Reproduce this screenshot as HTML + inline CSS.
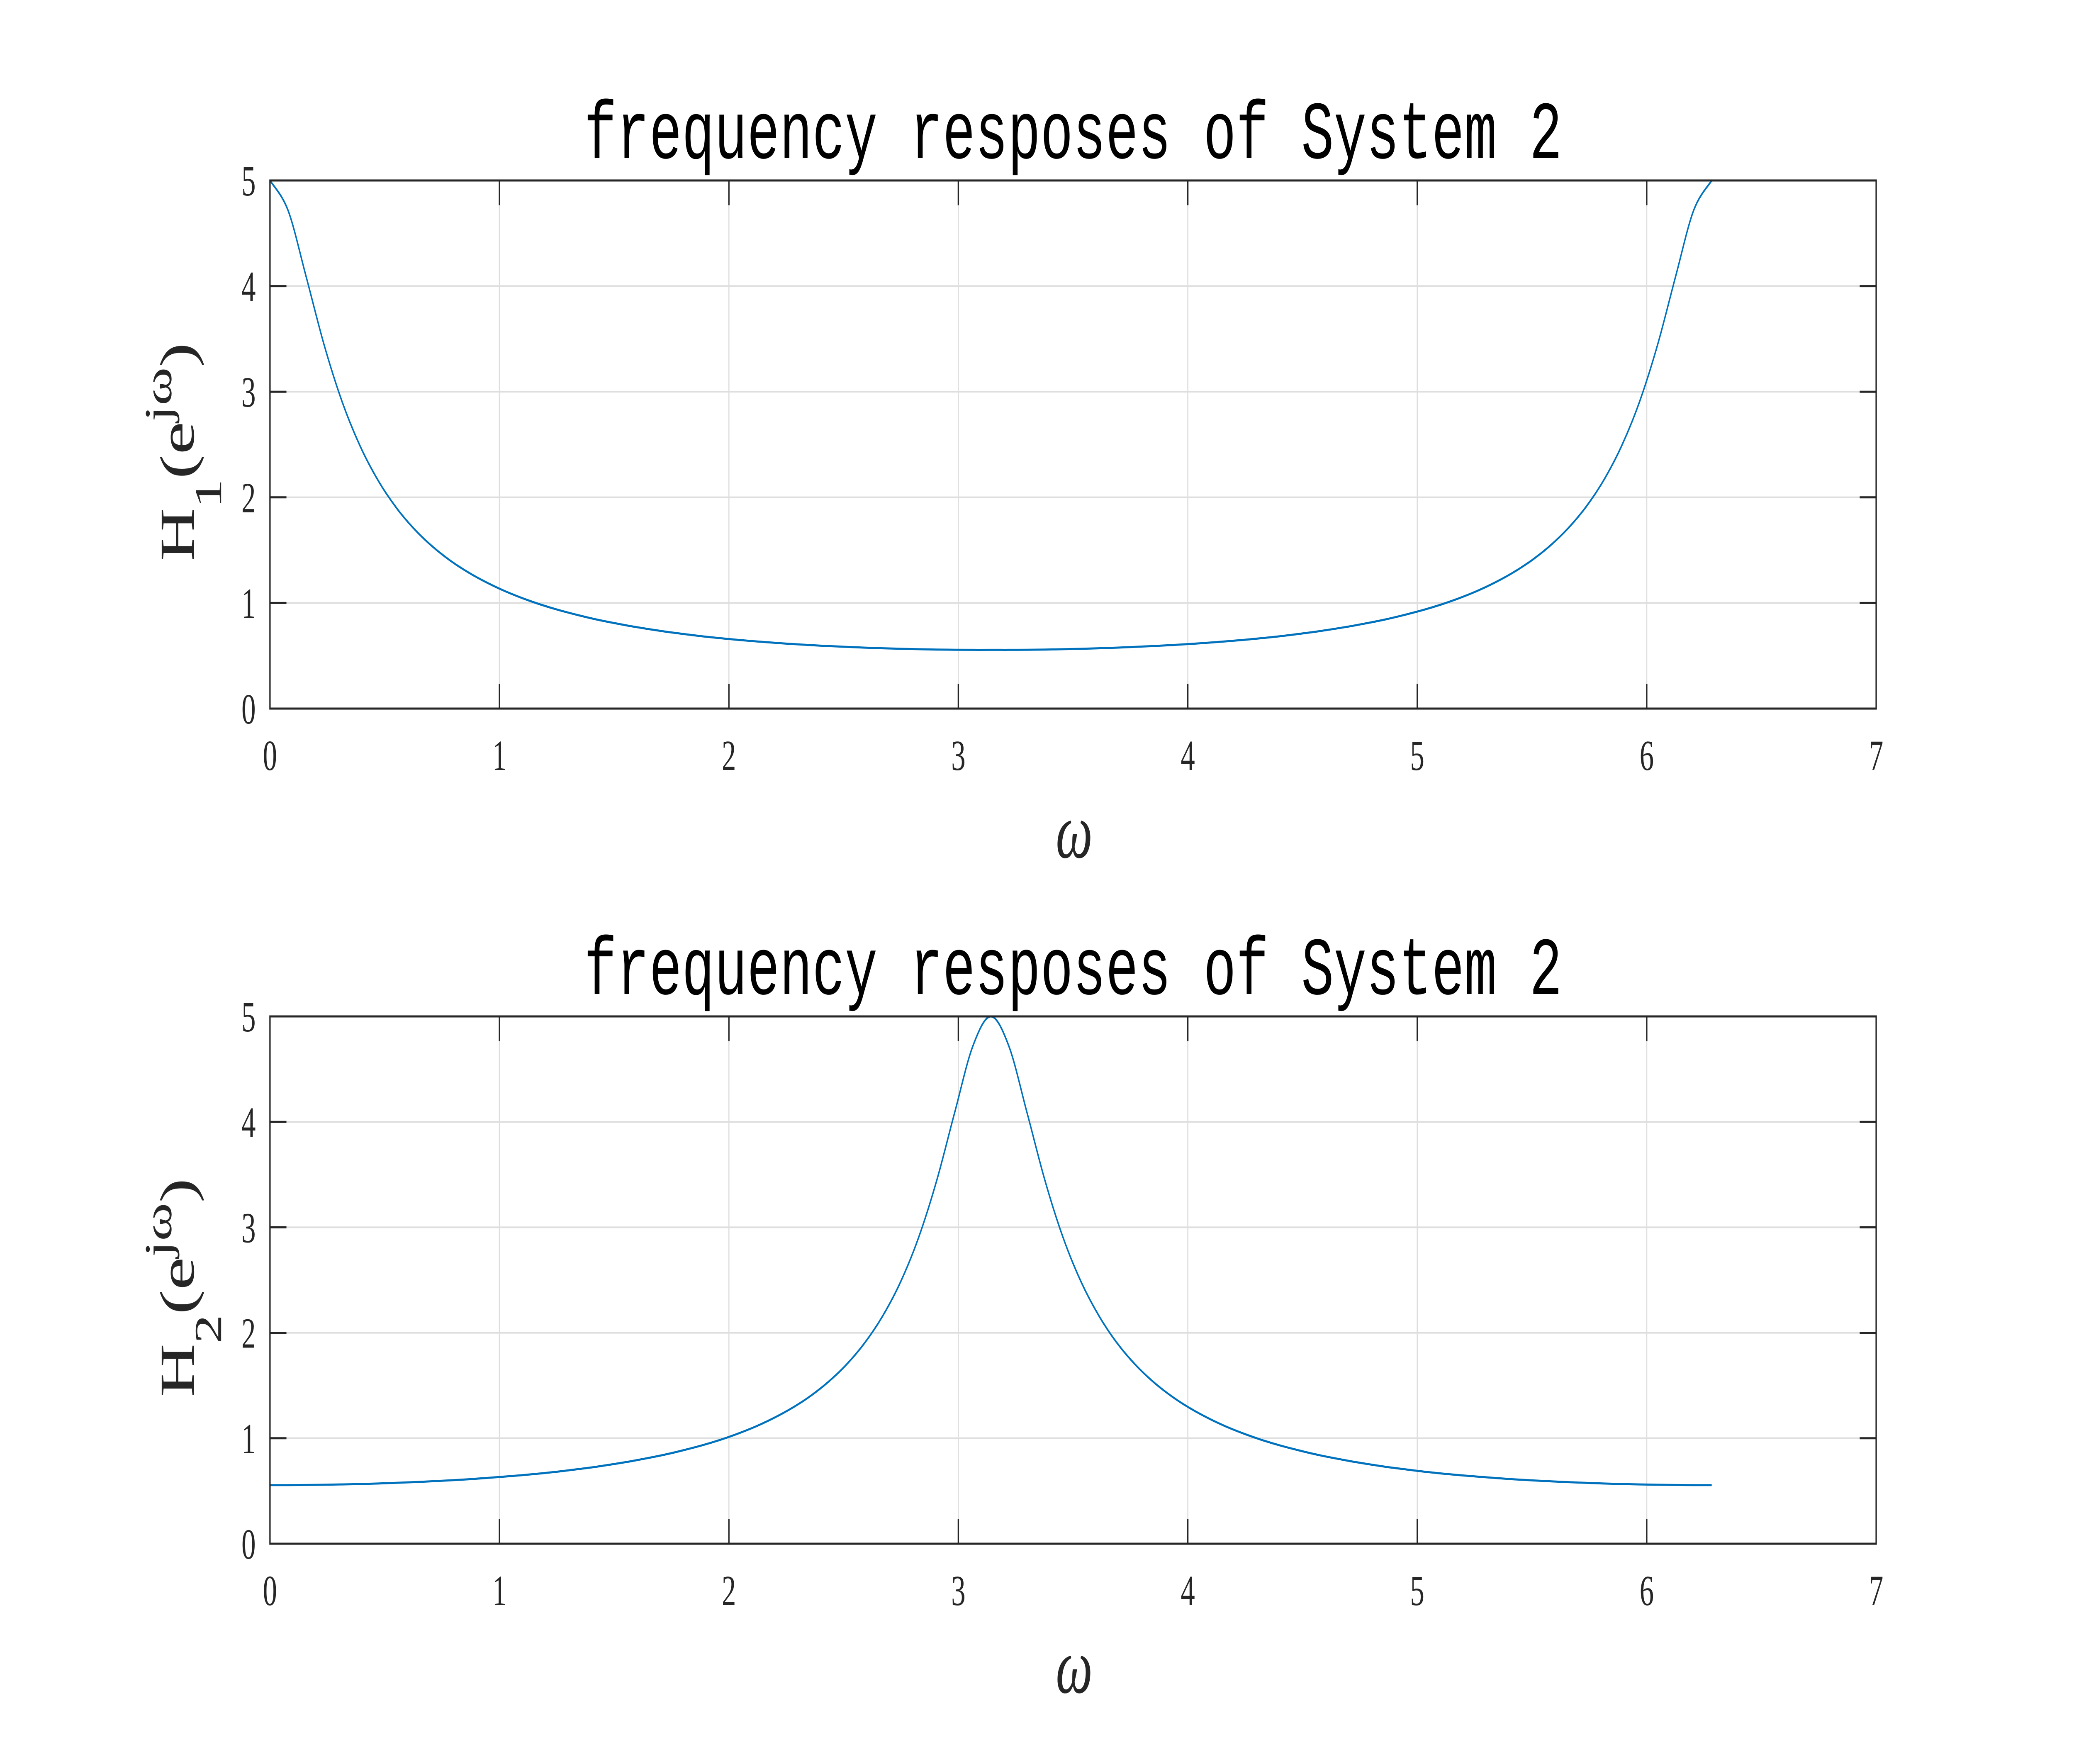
<!DOCTYPE html>
<html><head><meta charset="utf-8"><style>
html,body{margin:0;padding:0;background:#fff;width:100%;height:100%;overflow:hidden;}
svg{display:block;width:100vw;height:100vh;}
</style></head><body>
<svg id="fig" viewBox="0 0 7559 4252" preserveAspectRatio="none" xmlns="http://www.w3.org/2000/svg">
<rect x="0" y="0" width="7559" height="4252" fill="#fff"/>
</svg>
<script>
// ---- data ----
const sampleCount = 81;           // samples from 0 to 2*pi inclusive
const xMaxData = 6.2832;
const xTicks = [0,1,2,3,4,5,6,7];
const yTicks = [0,1,2,3,4,5];
const xTickLabels = ["0","1","2","3","4","5","6","7"];
const yTickLabels = ["0","1","2","3","4","5"];
const h1Values = [5.000,4.718,4.093,3.446,2.907,2.486,2.160,1.904,1.701,1.537,1.402,1.290,1.196,1.115,1.046,0.986,0.934,0.889,0.848,0.813,0.781,0.753,0.727,0.705,0.684,0.666,0.650,0.636,0.623,0.611,0.601,0.592,0.584,0.577,0.571,0.566,0.562,0.559,0.557,0.556,0.556,
0.556,0.557,0.559,0.562,0.566,0.571,0.577,0.584,0.592,0.601,0.611,0.623,0.636,0.650,0.666,0.684,0.705,0.727,0.753,0.781,0.813,0.848,0.889,0.934,0.986,1.046,1.115,1.196,1.290,1.402,1.537,1.701,1.904,2.160,2.486,2.907,3.446,4.093,4.718,5.000];
const h2Values = [0.556,0.556,0.557,0.559,0.562,0.566,0.571,0.577,0.584,0.592,0.601,0.611,0.623,0.636,0.650,0.666,0.684,0.705,0.727,0.753,0.781,0.813,0.848,0.889,0.934,0.986,1.046,1.115,1.196,1.290,1.402,1.537,1.701,1.904,2.160,2.486,2.907,3.446,4.093,4.718,5.000,
4.718,4.093,3.446,2.907,2.486,2.160,1.904,1.701,1.537,1.402,1.290,1.196,1.115,1.046,0.986,0.934,0.889,0.848,0.813,0.781,0.753,0.727,0.705,0.684,0.666,0.650,0.636,0.623,0.611,0.601,0.592,0.584,0.577,0.571,0.566,0.562,0.559,0.557,0.556,0.556];

const NS = "http://www.w3.org/2000/svg";
const svg = document.getElementById('fig');
const L = 984, R = 6838;
function mk(tag, attrs, parent){ const e=document.createElementNS(NS,tag); for(const k in attrs) e.setAttribute(k,attrs[k]); (parent||svg).appendChild(e); return e; }

function drawPanel(top, bottom, values, idx){
  const g = mk('g',{});
  
  
  const xs = v => L + (v/7)*(R-L);
  const ys = v => bottom - (v/5)*(bottom-top);
  xTicks.forEach((t,i)=>{ if(i===0||i===xTicks.length-1) return;
    const ln = mk('line',{x1:xs(t),x2:xs(t),y1:top,y2:bottom,stroke:'#dedede','stroke-width':4},g);
    
    
  });
  yTicks.forEach((t,i)=>{ if(i===0||i===yTicks.length-1) return;
    const ln = mk('line',{x1:L,x2:R,y1:ys(t),y2:ys(t),stroke:'#dedede','stroke-width':4},g);
    
    
  });
  const pts = values.map((v,i)=>[xs(i*xMaxData/(sampleCount-1)), ys(v)]);
  let d = 'M'+pts[0][0].toFixed(1)+','+pts[0][1].toFixed(1);
  for(let i=0;i<pts.length-1;i++){
    const p0=pts[Math.max(i-1,0)],p1=pts[i],p2=pts[i+1],p3=pts[Math.min(i+2,pts.length-1)];
    const c1=[p1[0]+(p2[0]-p0[0])/6,p1[1]+(p2[1]-p0[1])/6];
    const c2=[p2[0]-(p3[0]-p1[0])/6,p2[1]-(p3[1]-p1[1])/6];
    c1[1]=Math.max(c1[1],top); c2[1]=Math.max(c2[1],top);
    d+=' C'+c1[0].toFixed(1)+','+c1[1].toFixed(1)+' '+c2[0].toFixed(1)+','+c2[1].toFixed(1)+' '+p2[0].toFixed(1)+','+p2[1].toFixed(1);
  }
  const path = mk('path',{d:d,fill:'none',stroke:'#0072bd','stroke-width':5,'stroke-linejoin':'round'},g);
  
  
  const box = mk('rect',{x:L,y:top,width:R-L,height:bottom-top,fill:'none',stroke:'#262626','stroke-width':5},g);
  
  
  xTicks.forEach((t,i)=>{
    if(i>0 && i<xTicks.length-1){
      mk('line',{x1:xs(t),x2:xs(t),y1:bottom,y2:bottom-60,stroke:'#262626','stroke-width':5},g);
      mk('line',{x1:xs(t),x2:xs(t),y1:top,y2:top+60,stroke:'#262626','stroke-width':5},g);
    }
    const tx = mk('text',{x:xs(t),y:bottom+148,'text-anchor':'middle','font-family':'Liberation Serif, serif','font-size':104,fill:'#262626'},g);
    tx.textContent = xTickLabels[i];
    
    
  });
  yTicks.forEach((t,i)=>{
    if(i>0 && i<yTicks.length-1){
      mk('line',{x1:L,x2:L+60,y1:ys(t),y2:ys(t),stroke:'#262626','stroke-width':5},g);
      mk('line',{x1:R,x2:R-60,y1:ys(t),y2:ys(t),stroke:'#262626','stroke-width':5},g);
    }
    const tx = mk('text',{x:932,y:ys(t)+36,'text-anchor':'end','font-family':'Liberation Serif, serif','font-size':104,fill:'#262626'},g);
    tx.textContent = yTickLabels[i];
    
    
  });
  const title = mk('text',{x:(L+R)/2,y:top-54,'text-anchor':'middle','font-family':'Liberation Mono, monospace','font-size':198,fill:'#000'},g);
  title.textContent = 'frequency resposes of System 2';
  
  
  const xl = mk('text',{x:3915,y:bottom+359,'text-anchor':'middle','font-family':'Liberation Serif, serif','font-style':'italic','font-size':190,fill:'#262626'},g);
  xl.textContent = 'ω';
  
  
  const cy = (top+bottom)/2 + 18;
  const yl = mk('text',{transform:'translate(706,'+cy+') rotate(-90)','text-anchor':'middle','font-family':'Liberation Serif, serif','font-size':178,fill:'#262626'},g);
  
  
  yl.innerHTML = 'H<tspan font-size="140" dy="100">'+idx+'</tspan><tspan dy="-100">(e</tspan><tspan font-size="140" dy="-82">jω</tspan><tspan dy="82">)</tspan>';
}
drawPanel(435, 1708, h1Values, 1);
drawPanel(2450, 3721, h2Values, 2);
</script>
</body></html>
